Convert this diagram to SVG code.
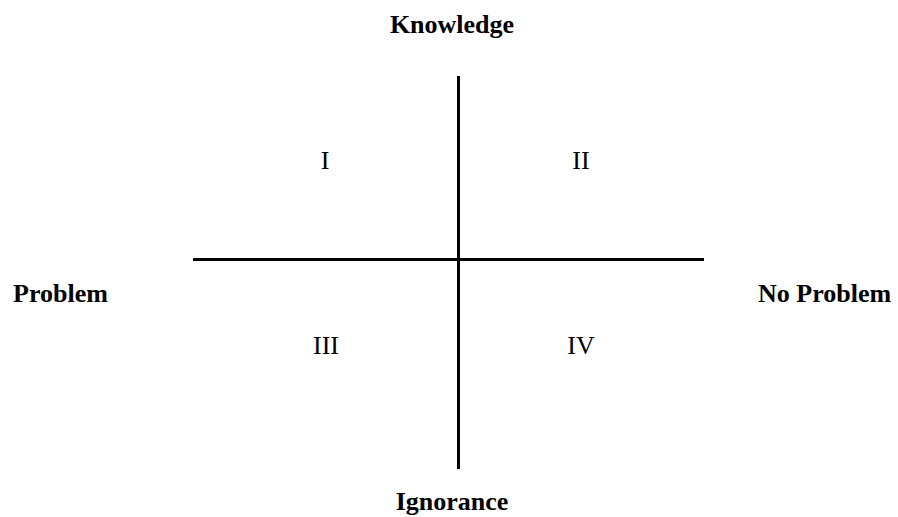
<svg xmlns="http://www.w3.org/2000/svg" width="898" height="517" viewBox="0 0 898 517">
<style>
.axis{stroke:#000;stroke-width:3;fill:none}
.lbl{font-family:"Liberation Serif","Times New Roman",serif;font-weight:bold;font-size:26px;fill:#000}
.num{font-family:"Liberation Serif","Times New Roman",serif;font-size:26px;fill:#000;text-anchor:middle}
</style>
<rect width="898" height="517" fill="#fff"/>
<g id="connectors">
<line class="axis" x1="458.5" y1="76" x2="458.5" y2="469"/>
<line class="axis" x1="193" y1="259.5" x2="704" y2="259.5"/>
</g>
<g id="knowledge"><text class="lbl" x="452" y="33" text-anchor="middle">Knowledge</text></g>
<g id="ignorance"><text class="lbl" x="452" y="510" text-anchor="middle">Ignorance</text></g>
<g id="problem"><text class="lbl" x="13" y="302">Problem</text></g>
<g id="noproblem"><text class="lbl" x="758" y="302">No Problem</text></g>
<g id="q1"><text class="num" x="325" y="169">I</text></g>
<g id="q2"><text class="num" x="581" y="169">II</text></g>
<g id="q3"><text class="num" x="326" y="354">III</text></g>
<g id="q4"><text class="num" x="581" y="354">IV</text></g>
</svg>
